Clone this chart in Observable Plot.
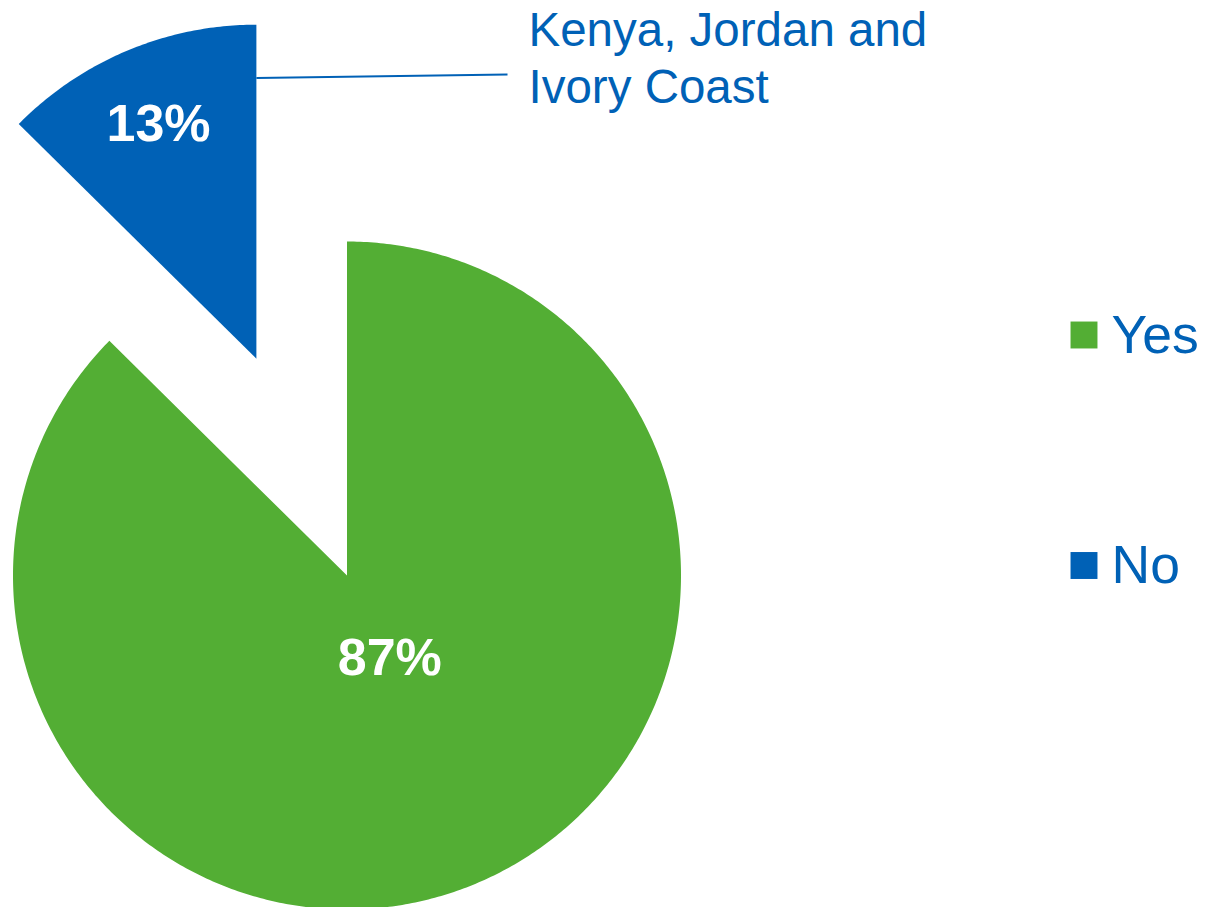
<!DOCTYPE html>
<html>
<head>
<meta charset="utf-8">
<script src="https://cdn.jsdelivr.net/npm/d3@7"></script>
<script src="https://cdn.jsdelivr.net/npm/@observablehq/plot@0.6"></script>
<style>
  html, body { margin: 0; padding: 0; background: #fff; }
  #chart { width: 1206px; height: 907px; }
  svg { font-family: "Liberation Sans", Arial, sans-serif; }
</style>
</head>
<body>
<div id="chart"></div>
<script>
// ---- data ----
const categories = ["Yes", "No"];
const shares = [0.874, 0.126];
const pctLabels = ["87%", "13%"];
const annotation = "Kenya, Jordan and\nIvory Coast";

// ---- style ----
const colors = ["#53AE34", "#0061B6"];
const textBlue = "#0061B6";
const W = 1206, H = 907;
const cx = 346.5, cy = 575, R = 334;
const explode = [0, 235];
const labelR = [0.27, 0.76];
const labelDx = [8, 0];

const pie = d3.pie().sort(null).value(d => d.v)(categories.map((c, i) => ({c, v: shares[i]})));

const polyPts = [];
const labelPts = [];
let noStart = null;
pie.forEach((p, i) => {
  const mid = (p.startAngle + p.endAngle) / 2;
  const ox = cx + explode[i] * Math.sin(mid);
  const oy = cy - explode[i] * Math.cos(mid);
  const n = Math.max(8, Math.ceil((p.endAngle - p.startAngle) / 0.01));
  polyPts.push({x: ox, y: oy, name: p.data.c});
  for (let k = 0; k <= n; k++) {
    const a = p.startAngle + (p.endAngle - p.startAngle) * k / n;
    polyPts.push({x: ox + R * Math.sin(a), y: oy - R * Math.cos(a), name: p.data.c});
  }
  polyPts.push({x: ox, y: oy, name: p.data.c});
  labelPts.push({
    x: ox + labelR[i] * R * Math.sin(mid) + labelDx[i],
    y: oy - labelR[i] * R * Math.cos(mid),
    text: pctLabels[i]
  });
  if (p.data.c === "No") {
    const a = p.endAngle;
    noStart = {x: ox + 0.84 * R * Math.sin(a), y: oy - 0.84 * R * Math.cos(a)};
  }
});

const legend = categories.map((c, i) => ({name: c, x: 1083.5, y: 334.5 + i * 230.5}));

const chart = Plot.plot({
  width: W,
  height: H,
  margin: 0,
  x: {domain: [0, W], range: [0, W], axis: null},
  y: {domain: [0, H], range: [0, H], axis: null},
  color: {domain: categories, range: colors},
  marks: [
    Plot.line(polyPts, {x: "x", y: "y", z: "name", fill: "name", stroke: "none", curve: "linear"}),
    Plot.text(labelPts, {x: "x", y: "y", text: "text", fill: "white", fontSize: 52, fontWeight: "bold", textAnchor: "middle"}),
    Plot.link([{x1: noStart.x, y1: noStart.y, x2: 507, y2: 74}], {x1: "x1", y1: "y1", x2: "x2", y2: "y2", stroke: textBlue, strokeWidth: 2}),
    Plot.text([annotation], {x: () => 528, y: () => 102, text: d => d, fill: textBlue, fontSize: 47.5, textAnchor: "start", lineAnchor: "bottom", lineHeight: 1.2}),
    Plot.dot(legend, {x: "x", y: "y", fill: "name", symbol: "square", r: 15.2, stroke: "none"}),
    Plot.text(legend, {x: d => d.x + 27.5, y: d => d.y + 17.5, text: "name", fill: textBlue, fontSize: 53.5, textAnchor: "start", lineAnchor: "bottom"})
  ]
});
document.getElementById("chart").appendChild(chart);
</script>
</body>
</html>
